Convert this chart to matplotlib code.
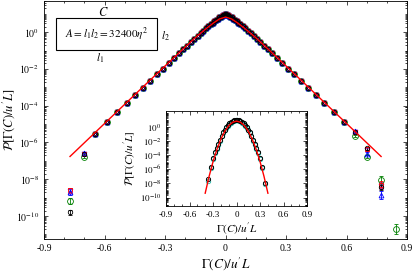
import numpy as np
import matplotlib
matplotlib.use('Agg')
import matplotlib.pyplot as plt
from matplotlib.ticker import LogLocator, FixedLocator, MultipleLocator, NullFormatter

plt.rcParams['font.family'] = ['Liberation Serif', 'DejaVu Serif']
plt.rcParams['mathtext.fontset'] = 'stix'

# ---- main panel: bins shared by every run, log10 of the pdf ----
x_main = [-0.647, -0.589, -0.537, -0.490, -0.449, -0.411, -0.374, -0.338, -0.309,
          -0.279, -0.254, -0.229, -0.209, -0.190, -0.172, -0.155, -0.139, -0.124,
          -0.110, -0.097, -0.085, -0.074, -0.064, -0.055, -0.046, -0.038, -0.031,
          -0.024, -0.018, -0.012, -0.007, -0.002, 0.002, 0.007, 0.012, 0.018,
          0.024, 0.031, 0.038, 0.046, 0.055, 0.064, 0.074, 0.085, 0.097, 0.110,
          0.124, 0.139, 0.155, 0.172, 0.190, 0.209, 0.229, 0.254, 0.279, 0.309,
          0.338, 0.374, 0.411, 0.449, 0.490, 0.537, 0.589]
logp_main = [-5.55, -4.90, -4.36, -3.87, -3.44, -3.04, -2.66, -2.28, -1.98,
             -1.66, -1.40, -1.14, -0.93, -0.73, -0.54, -0.37, -0.20, -0.05,
             0.09, 0.21, 0.33, 0.43, 0.52, 0.60, 0.67, 0.74, 0.80,
             0.85, 0.89, 0.93, 0.96, 0.98, 0.98, 0.96, 0.93, 0.89,
             0.85, 0.80, 0.74, 0.67, 0.60, 0.52, 0.43, 0.33, 0.21, 0.09,
             -0.05, -0.20, -0.37, -0.54, -0.73, -0.93, -1.14, -1.40, -1.66, -1.98,
             -2.28, -2.66, -3.04, -3.44, -3.87, -4.36, -4.90]

# tail bins where the runs separate (nan = no sample)
x_tail = [-0.771, -0.702, 0.642, 0.700, 0.769, 0.845]
tail_black = [-9.80, -6.65, -5.42, -6.32, -8.40, np.nan]
tail_red = [-8.60, -6.62, -5.42, -6.35, -8.30, np.nan]
tail_purple = [-8.62, -6.60, -5.45, -6.40, -8.35, np.nan]
tail_blue = [-8.70, -6.58, -5.40, -6.60, -8.86, np.nan]
tail_green = [-9.17, -6.80, -5.65, -6.78, -8.04, -10.70]
tail_err = [0.15, 0.05, 0.04, 0.08, 0.2, 0.25]

# fit curve, main panel
fit_x = [-0.771, -0.6, -0.4, -0.25, -0.15, -0.1, -0.06, -0.03, 0.0,
         0.03, 0.06, 0.1, 0.15, 0.25, 0.4, 0.6, 0.771]
fit_logp = [-6.76, -4.97, -2.88, -1.32, -0.30, 0.16, 0.50, 0.72, 0.82,
            0.72, 0.50, 0.16, -0.30, -1.32, -2.88, -4.97, -6.76]

# ---- inset ----
x_in = [-0.360, -0.329, -0.304, -0.275, -0.250, -0.232, -0.210, -0.189, -0.170,
        -0.150, -0.130, -0.110, -0.090, -0.070, -0.050, -0.030, -0.010, 0.010,
        0.030, 0.050, 0.070, 0.090, 0.110, 0.130, 0.150, 0.170, 0.189, 0.210,
        0.232, 0.250, 0.275, 0.304, 0.329, 0.360]
logp_in_black = [-7.40, -5.60, -4.35, -3.50, -2.95, -2.45, -1.85, -1.20, -0.75,
                 -0.35, -0.01, 0.28, 0.52, 0.71, 0.85, 0.94, 0.99, 0.99,
                 0.94, 0.85, 0.71, 0.52, 0.28, -0.01, -0.35, -0.75, -1.20, -1.85,
                 -2.45, -2.95, -3.50, -4.35, -5.60, -7.90]
logp_in_cyan = [-7.70, -5.80, -4.50, -3.62, -3.05, -2.55, -1.95, -1.30, -0.85,
                -0.45, -0.10, 0.20, 0.45, 0.65, 0.80, 0.90, 0.95, 0.95,
                0.90, 0.80, 0.65, 0.45, 0.20, -0.10, -0.45, -0.85, -1.30, -1.95,
                -2.55, -3.05, -3.62, -4.50, -5.80, -8.10]
fit_in_x = [-0.4, -0.35, -0.3, -0.25, -0.2, -0.15, -0.1, -0.05, 0.0,
            0.05, 0.1, 0.15, 0.2, 0.25, 0.3, 0.35, 0.4]
fit_in_logp = [-9.39, -6.99, -4.91, -3.15, -1.71, -0.59, 0.21, 0.69, 0.85,
               0.69, 0.21, -0.59, -1.71, -3.15, -4.91, -6.99, -9.39]

xticks = [-0.9, -0.6, -0.3, 0.0, 0.3, 0.6, 0.9]
xticklabels = ['-0.9', '-0.6', '-0.3', '0', '0.3', '0.6', '0.9']
yticks = [1e0, 1e-2, 1e-4, 1e-6, 1e-8, 1e-10]
yticklabels = ['$10^{0}$', '$10^{-2}$', '$10^{-4}$', '$10^{-6}$', '$10^{-8}$', '$10^{-10}$']


def pow10(v):
    return 10.0 ** np.asarray(v, dtype=float)


def style_axes(ax, fs):
    ax.set_yscale('log')
    ax.set_xlim(-0.9, 0.9)
    ax.xaxis.set_major_locator(FixedLocator(xticks))
    ax.set_xticklabels(xticklabels)
    ax.xaxis.set_minor_locator(MultipleLocator(0.1))
    ax.yaxis.set_major_locator(FixedLocator(yticks))
    ax.set_yticklabels(yticklabels)
    ax.yaxis.set_minor_locator(LogLocator(base=10, subs=np.arange(1, 10), numticks=40))
    ax.yaxis.set_minor_formatter(NullFormatter())
    ax.tick_params(which='both', direction='in', top=True, right=True, labelsize=fs, width=0.5)
    ax.tick_params(which='major', length=3)
    ax.tick_params(which='minor', length=1.6)
    for s in ax.spines.values():
        s.set_linewidth(0.6)


fig = plt.figure(figsize=(4.15, 2.71), dpi=100)
ax = fig.add_axes([0.106, 0.118, 0.875, 0.880])

series = [('green', 'o', 4.2, tail_green),
          ('#9b30c0', 'v', 3.5, tail_purple),
          ('red', 's', 3.5, tail_red),
          ('blue', '^', 3.5, tail_blue),
          ('black', 'o', 3.2, tail_black)]
for color, mk, ms, tail in series:
    ax.plot(x_main, pow10(logp_main), ls='none', marker=mk, ms=ms, mfc='none',
            mec=color, mew=0.6)
    ty = pow10(tail)
    err = [ty - pow10(np.array(tail) - np.array(tail_err)),
           pow10(np.array(tail) + np.array(tail_err)) - ty]
    ax.errorbar(x_tail, ty, yerr=err, ls='none', marker=mk, ms=ms, mfc='none',
                mec=color, mew=0.6, ecolor=color, elinewidth=0.6, capsize=1.5, capthick=0.6)
ax.plot(x_main, pow10(logp_main), ls='none', marker='d', ms=1.8, mfc='none', mec='black', mew=0.5)
ax.plot(fit_x, pow10(fit_logp), color='red', lw=1.0, zorder=5)

style_axes(ax, 7)
ax.set_ylim(10 ** -11.25, 10 ** 1.72)
ax.set_xlabel(r"$\Gamma(C)/u'L$", fontsize=9.5, labelpad=2)
ax.set_ylabel(r"$\mathcal{P}[\Gamma(C)/u'L]$", fontsize=9)
ax.yaxis.set_label_coords(-0.075, 0.5)

# sketch of the loop C
box = plt.Rectangle((0.033, 0.791), 0.278, 0.134, transform=ax.transAxes,
                    fill=False, lw=0.8, color='black')
ax.add_patch(box)
ax.text(0.172, 0.858, r'$A=l_1l_2=32400\eta^2$', transform=ax.transAxes,
        ha='center', va='center', fontsize=8)
ax.text(0.163, 0.948, r'$C$', transform=ax.transAxes, ha='center', va='center', fontsize=9)
ax.text(0.154, 0.760, r'$l_1$', transform=ax.transAxes, ha='center', va='center', fontsize=8)
ax.text(0.333, 0.852, r'$l_2$', transform=ax.transAxes, ha='center', va='center', fontsize=8)

# inset
ins = fig.add_axes([0.400, 0.240, 0.340, 0.350])
ins.plot(x_in, pow10(logp_in_cyan), ls='none', marker='o', ms=3.2, mfc='none',
         mec='#1fb5a8', mew=0.6)
ins.plot(x_in, pow10(logp_in_black), ls='none', marker='o', ms=3.0, mfc='none',
         mec='black', mew=0.7)
ins.plot(fit_in_x, pow10(fit_in_logp), color='red', lw=1.0, zorder=5)
style_axes(ins, 6.5)
ins.set_ylim(10 ** -11.2, 10 ** 2.27)
ins.set_xlabel(r"$\Gamma(C)/u'L$", fontsize=8, labelpad=1)
ins.set_ylabel(r"$\mathcal{P}[\Gamma(C)/u'L]$", fontsize=8, labelpad=1)

fig.savefig('out.png', dpi=100)
